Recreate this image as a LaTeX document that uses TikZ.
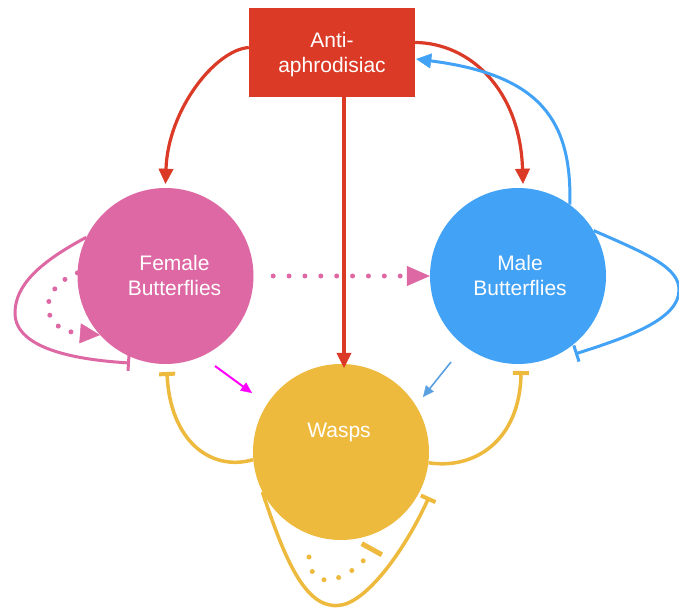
\documentclass[tikz,border=0pt]{standalone}
\usepackage{fontspec}
\setmainfont{Liberation Sans}
\usetikzlibrary{arrows.meta}
\definecolor{cred}{RGB}{218,58,38}
\definecolor{cpink}{RGB}{221,104,163}
\definecolor{cblue}{RGB}{66,162,246}
\definecolor{cyellow}{RGB}{238,186,62}
\definecolor{cthinblue}{RGB}{90,160,225}
\definecolor{cmagenta}{RGB}{255,0,255}
\begin{document}
\begin{tikzpicture}[x=1pt,y=-1pt,
  circ/.style={circle,minimum size=176pt,inner sep=0pt},
  lbl/.style={text=white,align=center,inner sep=0pt,font=\fontsize{21}{25}\selectfont},
  redarr/.style={draw=cred,line width=3.2pt,-{Triangle[length=15pt,width=15pt,line width=0.5pt]}},
  bluearr/.style={draw=cblue,line width=3pt,-{Triangle[length=15pt,width=15pt,line width=0.5pt]}},
  bluebar/.style={draw=cblue,line width=3pt,-{Bar[width=17pt,line width=3pt]}},
  pinkbar/.style={draw=cpink,line width=3pt,-{Bar[width=16pt,line width=3pt]}},
  yelbar/.style={draw=cyellow,line width=3.5pt,-{Bar[width=16pt,line width=4pt]}},
  dots/.style={line width=5pt,line cap=round,dash pattern=on 0pt off #1},
  thinarr/.style={line width=2pt,-{Triangle[length=11pt,width=10pt,line width=0.3pt]}}
]
\fill[white] (0,0) rectangle (679,609);
\useasboundingbox (0,0) rectangle (679,609);

% main shapes
\node[circ,fill=cpink] (F) at (165.5,276) {};
\node[circ,fill=cblue] (M) at (518,276) {};
\node[circ,fill=cyellow] (W) at (341,452) {};
\node[rectangle,fill=cred,minimum width=166pt,minimum height=89pt,inner sep=0pt] (A) at (332,52.5) {};

% labels
\node[lbl] (Ft) at (174.5,275) {Female\\Butterflies};
\node[lbl] (Mt) at (520,275) {Male\\Butterflies};
\node[lbl] (Wt) at (339,432.5) {Wasps};
\node[lbl] (At) at (332,55) {Anti-\\aphrodisiac};

% free-end coordinates
\coordinate (fb) at (130,363);
\coordinate (fd) at (100,335);
\coordinate (mb) at (575,354);
\coordinate (yl) at (167,372);
\coordinate (yr) at (521,371);
\coordinate (yb) at (429,497);
\coordinate (yd1) at (309,557);
\coordinate (yd2) at (373,547);
\coordinate (m1) at (215,366);
\coordinate (m2) at (252,393);
\coordinate (b1) at (451,362);
\coordinate (b2) at (423,397);

% red arrows from anti-aphrodisiac
\draw[redarr] ([yshift=5pt]A.west) .. controls (215,50) and (168,110) .. ([yshift=4pt]F.north);
\draw[redarr] ([yshift=10pt]A.east) .. controls (470,43) and (520,90) .. ([xshift=5pt,yshift=4pt]M.north);
\draw[redarr] ([xshift=12pt]A.south) -- ([xshift=3pt,yshift=-4pt]W.north);

% blue: male -> anti-aphrodisiac
\draw[bluearr] (M.54.5) .. controls (572,120) and (540,75) .. ([xshift=1pt,yshift=-6.5pt]A.east);

% blue self loop (inhibition)
\draw[bluebar] (M.31.5) .. controls (650,255) and (679,268) .. (679,290)
  .. controls (679,320) and (625,338) .. (mb);

% pink self loop (inhibition)
\draw[pinkbar] (F.154) .. controls (40,262) and (15,285) .. (15,313)
  .. controls (15,350) and (80,360) .. (fb);

% pink dotted self loop (activation)
\draw[cpink,dots=14pt,-{Triangle[length=20pt,width=20pt,line width=0.5pt]}]
  (F.178) .. controls (38,288) and (38,330) .. (fd);

% pink dotted female -> male
\draw[cpink,dots=15.875pt,-{Triangle[length=23pt,width=20pt,line width=0.5pt]}]
  ([xshift=19.5pt]F.east) -- (M.west);

% yellow inhibitions
\draw[yelbar] (W.185) .. controls (210,472) and (170,440) .. (yl);
\draw[yelbar] (W.-7) .. controls (475,470) and (520,440) .. (yr);
\draw[yelbar] (W.207.7) .. controls (285,560) and (305,607) .. (337,605.5)
  .. controls (365,605.5) and (405,550) .. (yb);

% yellow dotted self loop with bar
\draw[cyellow,dots=15pt,-{Bar[width=23pt,line width=5pt]}]
  (yd1) .. controls (310,600) and (358,574) .. (yd2);

% thin arrows
\draw[thinarr,draw=cmagenta,fill=cmagenta] (m1) -- (m2);
\draw[thinarr,draw=cthinblue,fill=cthinblue,line width=1.6pt] (b1) -- (b2);
\end{tikzpicture}
\end{document}
